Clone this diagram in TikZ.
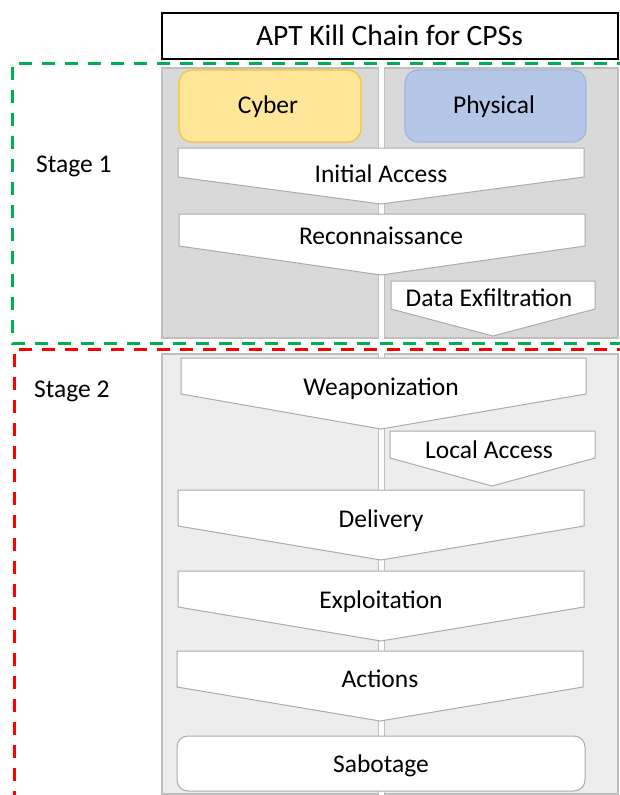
\documentclass[tikz,border=0pt]{standalone}
\usepackage{fontspec}
\setmainfont{Carlito}
\definecolor{panelA}{HTML}{D9D9D9}
\definecolor{panelB}{HTML}{EDEDED}
\definecolor{panelEdge}{HTML}{BFBFBF}
\definecolor{chevEdge}{HTML}{ABABAB}
\definecolor{cyberFill}{HTML}{FFE699}
\definecolor{cyberEdge}{HTML}{F5C232}
\definecolor{physFill}{HTML}{B4C7E7}
\definecolor{physEdge}{HTML}{9DB5E0}
\definecolor{stageOne}{HTML}{00B050}
\definecolor{stageTwo}{HTML}{FF0000}
\tikzset{
  lbl/.style={font=\fontsize{25.5}{30}\selectfont, inner sep=0pt, anchor=base},
  panel/.style={draw=panelEdge, line width=1.2pt},
  chev/.style={draw=chevEdge, fill=white, line width=1pt, line join=miter},
  stageline/.style={line width=3pt, dash pattern=on 13pt off 10pt},
}
% chevron: name, x left, x right, y top, y side, y tip, x tip, text baseline, text x, text
\newcommand\KCchevron[9]{%
  \draw[chev] (#2,#4) -- (#3,#4) -- (#3,#5) -- (#7,#6) -- (#2,#5) -- cycle;
  \node[lbl] (#1) at (#9,#8) {\KCtext};}
\begin{document}
\begin{tikzpicture}[x=1pt,y=-1pt]
\useasboundingbox (0,0) rectangle (620,795);
\fill[white] (0,0) rectangle (620,795);

% stage panels (two columns each)
\draw[panel, fill=panelA] (162,68) rectangle (378.5,338);
\draw[panel, fill=panelA] (384.5,68) rectangle (618,338);
\draw[panel, fill=panelB] (162,354) rectangle (378.5,794);
\draw[panel, fill=panelB] (384.5,354) rectangle (618,794);

% title
\node[draw=black, line width=1.3pt, fill=white, minimum width=456pt, minimum height=46pt, inner sep=0pt] (title) at (390,36) {};
\node[lbl, font=\fontsize{29.5}{34}\selectfont] (titletext) at (389.5,45.5) {APT Kill Chain for CPSs};

% domain headers
\draw[fill=cyberFill, draw=cyberEdge, line width=1.2pt, rounded corners=13pt] (179,70) rectangle (361,142);
\node[lbl] (cyber) at (268,113) {Cyber};
\draw[fill=physFill, draw=physEdge, line width=1.2pt, rounded corners=13pt] (405,70) rectangle (586,142);
\node[lbl] (physical) at (494,113) {Physical};

% stage 1 chain
\def\KCtext{Initial Access}
\KCchevron{initial}{178}{584}{148}{177}{204}{381}{182}{381}
\def\KCtext{Reconnaissance}
\KCchevron{recon}{179}{585}{214}{246}{275}{381}{244}{381}
\def\KCtext{Data Exfiltration}
\KCchevron{exfil}{391}{595}{281}{309}{336}{493}{306}{489}

% stage 2 chain
\def\KCtext{Weaponization}
\KCchevron{weapon}{181}{586}{358}{394}{429}{381}{395}{381}
\def\KCtext{Local Access}
\KCchevron{local}{390}{595}{431}{458}{486}{492}{458}{489}
\def\KCtext{Delivery}
\KCchevron{delivery}{178}{584}{490}{526}{560}{381}{527}{381}
\def\KCtext{Exploitation}
\KCchevron{exploit}{178}{584}{571}{607}{641}{381}{608}{381}
\def\KCtext{Actions}
\KCchevron{actions}{177}{583}{651}{687}{721}{380}{687}{380}
\draw[chev, rounded corners=11pt] (177,736) rectangle (585,791);
\node[lbl] (sabotage) at (381,772) {Sabotage};

% stage labels
\node[lbl, anchor=base west] (stage1) at (36,172) {Stage 1};
\node[lbl, anchor=base west] (stage2) at (34,397) {Stage 2};

% stage frames
\draw[stageline, draw=stageOne] (630,63) -- (12.7,63) -- (12.7,343) -- (630,343);
\draw[stageline, draw=stageTwo] (630,349) -- (14,349) -- (14,800);
\end{tikzpicture}
\end{document}
